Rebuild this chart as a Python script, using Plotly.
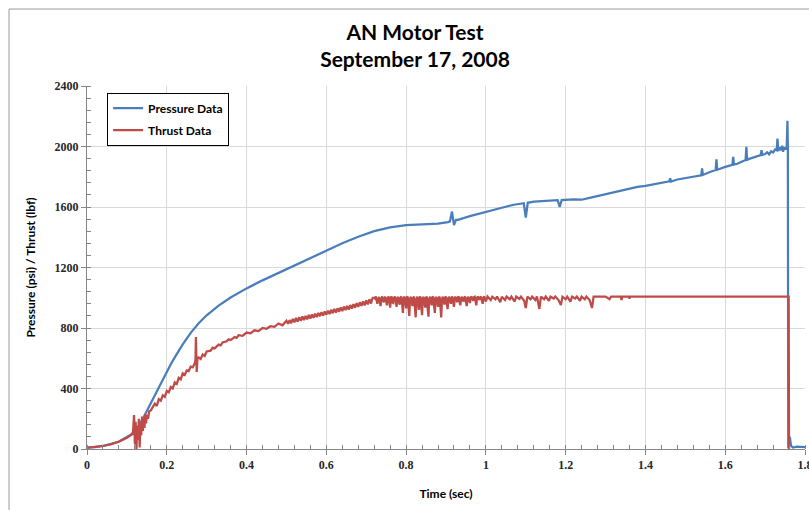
import plotly.graph_objects as go

# ---- chamber pressure (psi) vs. time (s) ----
pressure_t = [
    0, 0.02, 0.04, 0.06, 0.08, 0.10, 0.11, 0.12, 0.13, 0.14, 0.15, 0.16, 0.17,
    0.18, 0.19, 0.20, 0.21, 0.22, 0.24, 0.26, 0.28, 0.30, 0.33, 0.36, 0.40,
    0.44, 0.48, 0.52, 0.56, 0.60, 0.64, 0.68, 0.72, 0.76, 0.80, 0.84, 0.88,
    0.905, 0.91, 0.915, 0.92, 0.925, 0.93, 0.96, 1.00, 1.04, 1.07, 1.095, 1.10,
    1.105, 1.12, 1.16, 1.18, 1.185, 1.19, 1.22, 1.24, 1.26, 1.28, 1.30, 1.32,
    1.34, 1.36, 1.38, 1.40, 1.42, 1.44, 1.46, 1.462, 1.464, 1.48, 1.50, 1.52,
    1.54, 1.542, 1.544, 1.56, 1.576, 1.578, 1.58, 1.60, 1.618, 1.62, 1.622,
    1.63, 1.64, 1.651, 1.653, 1.655, 1.66, 1.67, 1.68, 1.689, 1.691, 1.693,
    1.70, 1.705, 1.71, 1.715, 1.72, 1.725, 1.729, 1.731, 1.733, 1.736, 1.74,
    1.743, 1.745, 1.748, 1.75, 1.754, 1.756, 1.757, 1.758, 1.762, 1.765, 1.77,
    1.78, 1.80,
]
pressure_psi = [
    10, 12, 20, 32, 50, 78, 95, 120, 155, 200, 252, 305, 358,
    410, 462, 512, 560, 606, 692, 768, 832, 884, 948, 1002, 1062,
    1115, 1165, 1215, 1265, 1315, 1360, 1403, 1440, 1465, 1480, 1485, 1490,
    1500, 1505, 1570, 1480, 1515, 1515, 1540, 1570, 1595, 1615, 1625, 1530,
    1628, 1635, 1640, 1645, 1600, 1646, 1650, 1648, 1660, 1672, 1688, 1700,
    1712, 1722, 1733, 1740, 1750, 1758, 1770, 1790, 1768, 1782, 1793, 1800,
    1810, 1855, 1812, 1830, 1845, 1915, 1846, 1865, 1878, 1932, 1880,
    1886, 1895, 1910, 1998, 1912, 1918, 1925, 1935, 1943, 1976, 1945,
    1950, 1962, 1948, 1968, 1960, 1980, 1975, 2053, 1970, 1995, 1975,
    2005, 1965, 1995, 1985, 1985, 2170, 1990, 5, 80, 20, 10,
    15, 12,
]

# ---- thrust (lbf) vs. time (s) ----
thrust_t = [
    0, 0.02, 0.04, 0.06, 0.08, 0.10, 0.11, 0.115,
    0.118, 0.120, 0.122, 0.124, 0.126, 0.128, 0.130, 0.132, 0.134, 0.136,
    0.138, 0.140, 0.142, 0.144, 0.146, 0.148, 0.150, 0.153, 0.156,
    0.16, 0.17, 0.175, 0.18, 0.185, 0.19, 0.195, 0.20, 0.205, 0.21, 0.215,
    0.22, 0.225, 0.23, 0.235, 0.24, 0.245, 0.25, 0.255, 0.26, 0.265, 0.27,
    0.272, 0.273, 0.274, 0.275, 0.277, 0.28, 0.285, 0.29, 0.295, 0.30, 0.31,
    0.315, 0.32, 0.33, 0.335, 0.34, 0.35, 0.355, 0.36, 0.37, 0.375, 0.38,
    0.39, 0.40, 0.41, 0.42, 0.43, 0.44, 0.45, 0.46, 0.47, 0.48, 0.49,
    0.500, 0.504, 0.508, 0.512, 0.516, 0.520, 0.524, 0.528, 0.532, 0.536,
    0.540, 0.544, 0.548, 0.552, 0.556, 0.560, 0.564, 0.568, 0.572, 0.576,
    0.580, 0.584, 0.588, 0.592, 0.596, 0.600, 0.604, 0.608, 0.612, 0.616,
    0.620, 0.624, 0.628, 0.632, 0.636, 0.640, 0.644, 0.648, 0.652, 0.656,
    0.660, 0.664, 0.668, 0.672, 0.676, 0.680, 0.684, 0.688, 0.692, 0.696,
    0.700, 0.704, 0.708, 0.712, 0.716, 0.720,
    0.722, 0.724, 0.726, 0.728, 0.730, 0.732, 0.734, 0.736, 0.738, 0.740,
    0.742, 0.744, 0.746, 0.748, 0.750, 0.752, 0.754, 0.756, 0.758, 0.760,
    0.762, 0.764, 0.766, 0.768, 0.770, 0.772, 0.774, 0.776, 0.778, 0.780,
    0.782, 0.784, 0.786, 0.788, 0.790, 0.792, 0.794, 0.796, 0.798, 0.800,
    0.802, 0.804, 0.806, 0.808, 0.810, 0.812, 0.814, 0.816, 0.818, 0.820,
    0.822, 0.824, 0.826, 0.828, 0.830, 0.832, 0.834, 0.836, 0.838, 0.840,
    0.842, 0.844, 0.846, 0.848, 0.850, 0.852, 0.854, 0.856, 0.858, 0.860,
    0.862, 0.864, 0.866, 0.868, 0.870, 0.872, 0.874, 0.876, 0.878, 0.880,
    0.882, 0.884, 0.886, 0.888, 0.890, 0.892, 0.894, 0.896, 0.898, 0.900,
    0.902, 0.904, 0.906, 0.908, 0.910, 0.912, 0.914, 0.916, 0.918, 0.920,
    0.922, 0.924, 0.926, 0.928, 0.930, 0.932, 0.934, 0.936, 0.938, 0.940,
    0.942, 0.944, 0.946, 0.948, 0.950, 0.952, 0.954, 0.956, 0.958, 0.960,
    0.962, 0.964, 0.966, 0.968, 0.970, 0.972, 0.974, 0.976, 0.978, 0.980,
    0.982, 0.984, 0.986, 0.988, 0.990, 0.992, 0.994, 0.996, 0.998, 1.000,
    1.004, 1.012, 1.016, 1.024, 1.028, 1.036, 1.040, 1.048, 1.052, 1.060,
    1.064, 1.072, 1.076, 1.084, 1.088, 1.096, 1.100, 1.104, 1.112, 1.116,
    1.124, 1.128, 1.134, 1.138, 1.146, 1.150, 1.158, 1.162, 1.170, 1.174,
    1.182, 1.188, 1.192, 1.200, 1.204, 1.212, 1.216, 1.224, 1.228, 1.236,
    1.240, 1.248, 1.252, 1.260, 1.266, 1.270, 1.280, 1.300, 1.310, 1.314,
    1.338, 1.340, 1.342, 1.358, 1.360, 1.362, 1.40, 1.50, 1.60, 1.70, 1.759,
    1.760, 1.762,
]
thrust_lbf = [
    8, 12, 20, 32, 48, 75, 92, 100,
    225, 30, 180, 0, 150, 60, 200, 10, 170, 90,
    215, 120, 200, 140, 230, 170, 225, 200, 250,
    255, 300, 285, 330, 320, 355, 345, 385, 375, 410, 400,
    440, 430, 470, 460, 500, 490, 520, 515, 545, 540, 565,
    590, 740, 560, 510, 600, 605, 595, 625, 615, 645, 650,
    670, 665, 690, 685, 705, 712, 725, 720, 740, 735, 752,
    748, 770, 765, 785, 780, 800, 795, 812, 808, 830, 818,
    848, 828, 852, 832, 860, 838, 866, 842, 872, 848,
    876, 852, 880, 858, 886, 862, 890, 868, 894, 872,
    900, 878, 905, 882, 910, 888, 915, 892, 920, 898,
    926, 902, 930, 908, 936, 912, 942, 918, 946, 922,
    952, 928, 958, 934, 964, 940, 970, 946, 976, 950,
    982, 956, 990, 962, 998, 1000,
    995, 1008, 985, 960, 992, 1005, 978, 945, 996, 1008,
    982, 970, 1000, 1006, 975, 950, 998, 1008, 980, 935,
    1002, 1007, 968, 965, 1000, 1008, 985, 940, 995, 1006,
    972, 955, 1001, 1008, 960, 900, 998, 1007, 975, 930,
    1003, 1008, 940, 880, 995, 1006, 970, 945, 1000, 1008,
    935, 870, 990, 1007, 965, 920, 1002, 1008, 940, 885,
    996, 1006, 975, 935, 1000, 1008, 930, 875, 992, 1007,
    980, 950, 1003, 1008, 950, 900, 995, 1006, 975, 940,
    1000, 1008, 940, 870, 990, 1007, 978, 955, 1002, 1008,
    960, 925, 996, 1006, 985, 960, 1001, 1008, 970, 940,
    998, 1007, 988, 970, 1003, 1008, 975, 950, 999, 1006,
    990, 975, 1002, 1008, 972, 945, 997, 1007, 985, 965,
    1001, 1008, 992, 980, 1003, 1006, 978, 950, 1000, 1008,
    995, 985, 1002, 1007, 982, 960, 1001, 1008, 990, 975,
    1008, 985, 1007, 990, 1008, 970, 1007, 985, 1008, 990,
    1007, 975, 1008, 992, 1007, 980, 932, 1008, 990, 1007,
    985, 1008, 926, 1007, 990, 1008, 980, 1007, 995, 1008,
    985, 952, 1007, 990, 1008, 975, 1007, 995, 1008, 980,
    1007, 990, 1008, 985, 932, 1007, 1008, 1008, 990, 1008,
    1008, 985, 1008, 1008, 995, 1008, 1008, 1008, 1008, 1008, 1008,
    0, 0,
]

x_ticks = [0, 0.2, 0.4, 0.6, 0.8, 1, 1.2, 1.4, 1.6, 1.8]
x_tick_text = ["0", "0.2", "0.4", "0.6", "0.8", "1", "1.2", "1.4", "1.6", "1.8"]
y_ticks = [0, 400, 800, 1200, 1600, 2000, 2400]

BLUE = "#4A7EBB"
RED = "#BE4B48"
AXIS = "#868686"
GRID = "#DADADA"
SANS = "Lato, Open Sans, sans-serif"
SERIF = "Liberation Serif, serif"

fig = go.Figure()
fig.add_trace(go.Scatter(
    x=pressure_t, y=pressure_psi, mode="lines", name="Pressure Data",
    legendgroup="p", line=dict(color=BLUE, width=2.25),
))
fig.add_trace(go.Scatter(
    x=thrust_t, y=thrust_lbf, mode="lines", name="Thrust Data",
    legendgroup="t", line=dict(color=RED, width=2.25),
))

tick_font = dict(family=SERIF, size=12, color="#262626", weight="bold")

fig.update_layout(
    width=809, height=510,
    margin=dict(l=87, r=4, t=86, b=61, autoexpand=False),
    paper_bgcolor="white", plot_bgcolor="white",
    title=dict(
        text="AN Motor Test<br>September 17, 2008",
        x=0.513, xanchor="center", y=0.922, yanchor="top",
        font=dict(family=SANS, size=21, color="#000000", weight="bold"),
    ),
    showlegend=True,
    legend=dict(
        x=0.028, y=0.982, xanchor="left", yanchor="top",
        bgcolor="white", bordercolor="#000000", borderwidth=1,
        font=dict(family=SANS, size=12, color="#000000", weight="bold"),
        itemwidth=30, tracegroupgap=3,
    ),
    xaxis=dict(
        range=[0, 1.8], tickvals=x_ticks, ticktext=x_tick_text,
        automargin=False,
        showline=True, linecolor=AXIS, linewidth=1,
        showgrid=True, gridcolor=GRID, gridwidth=1, zeroline=False,
        ticks="outside", ticklen=5, tickcolor=AXIS,
        minor=dict(dtick=0.04, ticks="inside", ticklen=4, tickcolor=AXIS, showgrid=False),
        tickfont=tick_font, ticklabeloverflow="allow",
        title=dict(text="Time (sec)", standoff=18,
                   font=dict(family=SANS, size=12, color="#000000", weight="bold")),
    ),
    yaxis=dict(
        range=[0, 2400], tickvals=y_ticks,
        automargin=False,
        showline=True, linecolor=AXIS, linewidth=1,
        showgrid=True, gridcolor=GRID, gridwidth=1, zeroline=False,
        ticks="outside", ticklen=5, tickcolor=AXIS,
        minor=dict(dtick=80, ticks="inside", ticklen=4, tickcolor=AXIS, showgrid=False),
        tickfont=tick_font,
        title=dict(text="Pressure (psi) / Thrust (lbf)", standoff=16,
                   font=dict(family=SANS, size=12, color="#000000", weight="bold")),
    ),
)

# chart-area frame
fig.add_shape(
    type="rect", xref="paper", yref="paper",
    x0=-0.1086, x1=1.2, y0=-0.6, y1=1.212,
    line=dict(color="#9A9A9A", width=1), fillcolor="rgba(0,0,0,0)", layer="below",
)

fig.write_html("out.html")
